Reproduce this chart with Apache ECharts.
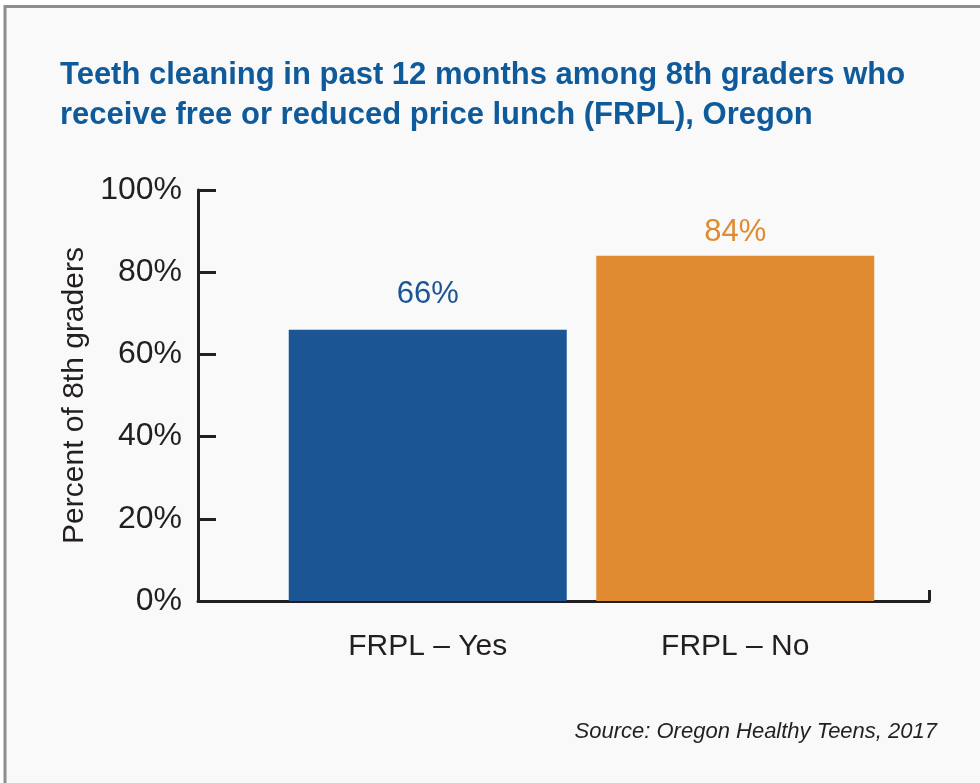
<!DOCTYPE html>
<html>
<head>
<meta charset="utf-8">
<script src="https://cdn.jsdelivr.net/npm/echarts@6/dist/echarts.min.js"></script>
<style>
  html, body { margin: 0; padding: 0; background: #fff; }
  #main { width: 980px; height: 783px; }
</style>
</head>
<body>
<div id="main"></div>
<script>
var categories = ['FRPL – Yes', 'FRPL – No'];
var values = [66, 84];
var barColors = ['#1b5593', '#e08b31'];
var yTicks = [0, 20, 40, 60, 80, 100];

var FONT = '"Liberation Sans", Arial, sans-serif';
var INK = '#231f20';
var labelGaps = [20, 8];   // 标签离柱顶的距离

function buildChart() {
    var seriesData = [];
    for (var i = 0; i < values.length; i++) {
        seriesData.push({
            value: values[i],
            itemStyle: { color: barColors[i] },
            label: { color: barColors[i], distance: labelGaps[i] }
        });
    }
    var option = {
        backgroundColor: '#ffffff',
        animation: false,
        // 卡片背景和灰色边框
        graphic: [{
            type: 'rect',
            shape: { x: 5, y: 6.5, width: 1000, height: 800 },
            style: { fill: '#f9f9f9', stroke: '#8e8e8e', lineWidth: 3 },
            z: -10
        }],
        title: [{
            text: 'Teeth cleaning in past 12 months among 8th graders who\nreceive free or reduced price lunch (FRPL), Oregon',
            left: 55,
            top: 50,
            textStyle: {
                fontFamily: FONT,
                fontWeight: 'bold',
                fontSize: 31,
                lineHeight: 40,
                color: '#0e5a9b'
            }
        }, {
            text: 'Source: Oregon Healthy Teens, 2017',
            right: 38,
            top: 716,
            textStyle: {
                fontFamily: FONT,
                fontStyle: 'italic',
                fontWeight: 'normal',
                fontSize: 22,
                color: INK
            }
        }],
        grid: [
            { left: 198, right: 51, top: 190, bottom: 182 },
            { left: 274, right: 91, top: 190, bottom: 182 }
        ],
        xAxis: [{
            gridIndex: 0,
            type: 'value',
            min: 0,
            max: 1,
            interval: 1,
            axisLine: { show: true, lineStyle: { color: INK, width: 3 } },
            axisTick: { show: true, inside: true, length: 11, lineStyle: { color: INK, width: 3 } },
            axisLabel: { show: false },
            splitLine: { show: false }
        }, {
            gridIndex: 1,
            type: 'category',
            data: categories,
            axisLine: { show: false },
            axisTick: { show: false },
            axisLabel: {
                margin: 31,
                fontFamily: FONT,
                fontSize: 30,
                color: INK
            }
        }],
        yAxis: [{
            gridIndex: 0,
            type: 'value',
            min: yTicks[0],
            max: yTicks[yTicks.length - 1],
            interval: 20,
            name: 'Percent of 8th graders',
            nameLocation: 'middle',
            nameGap: 101,
            nameTextStyle: { fontFamily: FONT, fontSize: 30, color: INK },
            axisLine: { show: true, lineStyle: { color: INK, width: 3 } },
            axisTick: { show: true, inside: true, length: 18, lineStyle: { color: INK, width: 3 } },
            axisLabel: {
                margin: 16,
                fontFamily: FONT,
                fontSize: 32,
                color: INK,
                formatter: '{value}%'
            },
            splitLine: { show: false }
        }, {
            gridIndex: 1,
            type: 'value',
            min: yTicks[0],
            max: yTicks[yTicks.length - 1],
            show: false
        }],
        series: [{
            type: 'bar',
            xAxisIndex: 1,
            yAxisIndex: 1,
            data: seriesData,
            barWidth: 278,
            label: {
                show: true,
                position: 'top',
                fontFamily: FONT,
                fontSize: 31,
                formatter: '{c}%'
            }
        }]
    };
    var chart = echarts.init(document.getElementById('main'));
    chart.setOption(option, true);
}
buildChart();
</script>
</body>
</html>
